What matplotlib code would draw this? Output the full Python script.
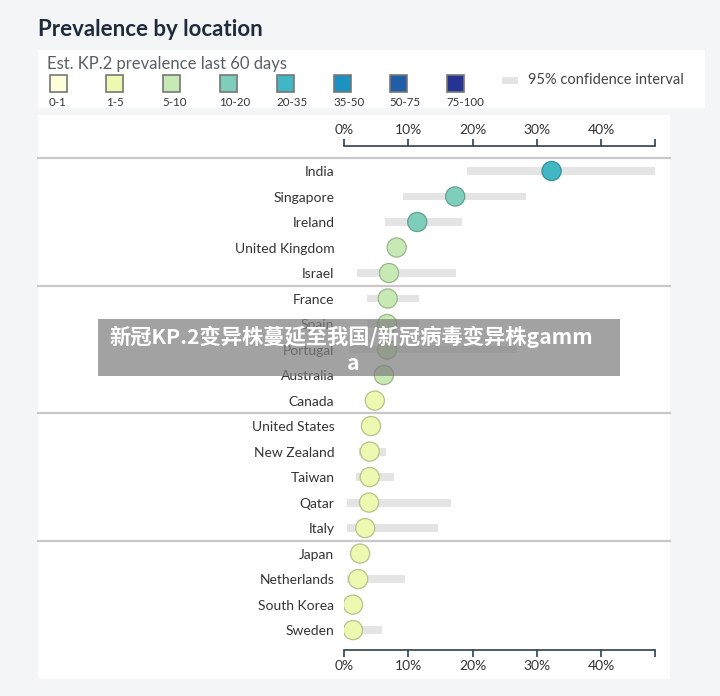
import numpy as np
import matplotlib
matplotlib.use('Agg')
import matplotlib.pyplot as plt
from matplotlib.patches import Rectangle
from matplotlib.colors import to_rgb

plt.rcParams['font.family'] = ['Lato', 'DejaVu Sans']

# Данные: страны, оценка распространённости (%) и 95% доверительный интервал
countries = ['India', 'Singapore', 'Ireland', 'United Kingdom', 'Israel',
             'France', 'Spain', 'Portugal', 'Australia', 'Canada',
             'United States', 'New Zealand', 'Taiwan', 'Qatar', 'Italy',
             'Japan', 'Netherlands', 'South Korea', 'Sweden']
prevalence = [32.3, 17.3, 11.4, 8.2, 7.0,
              6.8, 6.7, 6.7, 6.2, 4.8,
              4.2, 4.0, 4.0, 3.9, 3.3,
              2.5, 2.2, 1.4, 1.4]
ci_low = [19.1, 9.2, 6.4, np.nan, 2.0,
          3.6, 3.6, 0.8, 5.2, np.nan,
          np.nan, 2.3, 1.9, 0.5, 0.5,
          np.nan, 0.4, np.nan, 0.6]
ci_high = [48.4, 28.3, 18.4, np.nan, 17.4,
           11.7, 11.7, 27.0, 7.8, np.nan,
           np.nan, 6.5, 7.8, 16.6, 14.6,
           np.nan, 9.5, np.nan, 5.9]

# Легенда: интервалы и цвета (YlGnBu)
bin_labels = ['0-1', '1-5', '5-10', '10-20', '20-35', '35-50', '50-75', '75-100']
bin_edges = [0, 1, 5, 10, 20, 35, 50, 75, 100]
bin_colors = ['#ffffd9', '#edf8b1', '#c7e9b4', '#7fcdbb', '#41b6c4',
              '#1d91c0', '#225ea8', '#253494']
x_ticks = [0, 10, 20, 30, 40]
x_max = 48.4

W, H = 720, 696


def fx(x):
    return x / W


def fy(y):
    return 1 - y / H


def darker(c, k=0.78):
    r, g, b = to_rgb(c)
    return (r * k, g * k, b * k)


fig = plt.figure(figsize=(7.2, 6.96), dpi=100)
fig.patch.set_facecolor('#f4f5f7')

# Панели
fig.add_artist(Rectangle((fx(38), fy(108)), fx(667), 58 / H, transform=fig.transFigure,
                         facecolor='white', edgecolor='none', zorder=0))
fig.add_artist(Rectangle((fx(38), fy(679)), fx(632), 564 / H, transform=fig.transFigure,
                         facecolor='white', edgecolor='none', zorder=0))

fig.text(fx(38), fy(30), 'Prevalence by location', fontsize=16, fontweight='bold',
         color='#1f2b3a', va='center', ha='left')

# Легенда
fig.text(fx(47), fy(64), 'Est. KP.2 prevalence last 60 days', fontsize=12,
         color='#5a5f66', va='center', ha='left')
for i, (lab, col) in enumerate(zip(bin_labels, bin_colors)):
    cx = 58 + i * 56.8
    fig.add_artist(Rectangle((fx(cx - 8.5), fy(92)), 17 / W, 17 / H,
                             transform=fig.transFigure, facecolor=col,
                             edgecolor='#777777', lw=1.2))
    fig.text(fx(cx - 9), fy(102.5), lab, fontsize=8.3, color='#333333',
             va='center', ha='left')
fig.add_artist(Rectangle((fx(502), fy(84)), 16 / W, 7 / H, transform=fig.transFigure,
                         facecolor='#e4e4e4', edgecolor='none'))
fig.text(fx(528), fy(80), '95% confidence interval', fontsize=10.5,
         color='#444444', va='center', ha='left')

# Основной график
ax = fig.add_axes([fx(344), fy(650), 311 / W, (650 - 146) / H])
ax.set_facecolor('none')
y = np.arange(len(countries))
colors = [bin_colors[np.digitize(v, bin_edges) - 1] for v in prevalence]
lo = np.array(ci_low)
hi = np.array(ci_high)
ax.barh(y, hi - lo, left=lo, height=0.31, color='#e4e4e4', zorder=1)
ax.scatter(prevalence, y, s=190, c=colors, edgecolors=[darker(c) for c in colors],
           linewidths=0.9, zorder=3)

for sep in [-0.5, 4.5, 9.5, 14.5]:
    ax.axhline(sep, xmin=(38 - 344) / 311, xmax=(670 - 344) / 311,
               color='#c8c8c8', lw=1.6, clip_on=False, zorder=0)

ax.set_xlim(0, x_max)
ax.set_ylim(18.78, -0.98)
ax.set_yticks(y)
ax.set_yticklabels(countries, fontsize=10, color='#333333')
ax.tick_params(axis='y', length=0, pad=7)
ax.set_xticks(x_ticks + [x_max])
ax.set_xticklabels(['%d%%' % t for t in x_ticks] + [''])
ax.tick_params(axis='x', top=True, labeltop=True, bottom=True, labelbottom=True,
               direction='out', length=5, width=1.2, color='#2c3e50',
               labelsize=10, labelcolor='#333333', pad=2)
for s in ['left', 'right']:
    ax.spines[s].set_visible(False)
for s in ['top', 'bottom']:
    ax.spines[s].set_color('#2c3e50')
    ax.spines[s].set_linewidth(1.2)

# Плашка с текстом поверх графика
fig.add_artist(Rectangle((fx(98), fy(376)), 522 / W, 57 / H, transform=fig.transFigure,
                         facecolor='#7f7f7f', alpha=0.72, edgecolor='none', zorder=10))
cjk = ['Noto Sans CJK SC', 'DejaVu Sans']
fig.text(fx(351), fy(337), '新冠KP.2变异株蔓延至我国/新冠病毒变异株gamm', fontsize=15.3,
         fontweight='bold', color='white', ha='center', va='center', family=cjk, zorder=11)
fig.text(fx(353), fy(364), 'a', fontsize=15.3, fontweight='bold', color='white',
         ha='center', va='center', family=cjk, zorder=11)

fig.savefig('out.png', dpi=100)
